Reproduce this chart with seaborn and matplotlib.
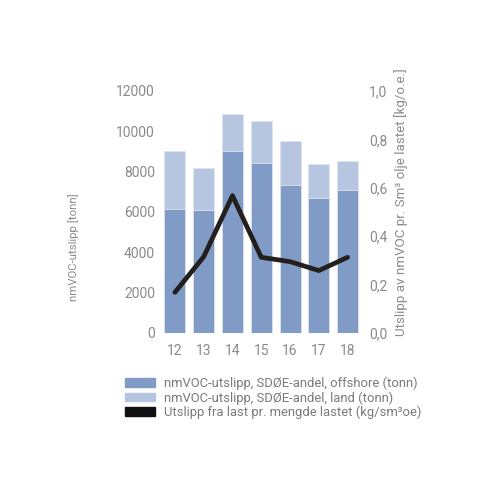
import matplotlib
matplotlib.use("Agg")
import matplotlib.pyplot as plt
import matplotlib.patches as mpatches
import seaborn as sns
import numpy as np
import pandas as pd

years = ["12", "13", "14", "15", "16", "17", "18"]
offshore = [6150, 6080, 9000, 8430, 7330, 6700, 7100]
total = [9020, 8160, 10870, 10500, 9520, 8390, 8520]
load_rate = [0.167, 0.314, 0.567, 0.312, 0.294, 0.257, 0.312]
left_ticks = [0, 2000, 4000, 6000, 8000, 10000, 12000]
right_ticks = [0.0, 0.2, 0.4, 0.6, 0.8, 1.0]
right_tick_labels = ["0,0", "0,2", "0,4", "0,6", "0,8", "1,0"]
legend_labels = [
    "nmVOC-utslipp, SDØE-andel, offshore (tonn)",
    "nmVOC-utslipp, SDØE-andel, land (tonn)",
    "Utslipp fra last pr. mengde lastet (kg/sm³oe)",
]

sns.set_theme(style="white")
plt.rcParams["font.family"] = ["Roboto", "DejaVu Sans"]

C_OFF = "#7f9bc6"
C_LAND = "#b7c6e0"
C_LINE = "#231f1c"
GRAY = "#8a8a8a"

df = pd.DataFrame({"year": years, "offshore": offshore, "total": total, "rate": load_rate})

fig = plt.figure(figsize=(5, 5), dpi=100)
ax = fig.add_axes([0.321, 0.3346, 0.403, 0.4834])

sns.barplot(data=df, x="year", y="total", color=C_LAND, saturation=1, width=0.73,
            ax=ax, edgecolor="#dfe5f0", linewidth=0.6)
sns.barplot(data=df, x="year", y="offshore", color=C_OFF, saturation=1, width=0.73,
            ax=ax, edgecolor="#dfe5f0", linewidth=0.6)

ax.set_ylim(0, 12000)
ax.set_xlim(-0.5, len(years) - 0.5)
ax.set_yticks(left_ticks)
ax.set_yticklabels([str(t) for t in left_ticks])
ax.set_xlabel("")
ax.set_ylabel("")
ax.tick_params(axis="both", colors=GRAY, labelsize=10, length=0, pad=4)
ax.tick_params(axis="x", pad=8)
for s in ax.spines.values():
    s.set_visible(False)

ax2 = ax.twinx()
sns.lineplot(x=np.arange(len(years)), y=load_rate, ax=ax2, color=C_LINE, linewidth=3.4)
ax2.set_ylim(0, 1.0)
ax2.set_yticks(right_ticks)
ax2.set_yticklabels(right_tick_labels)
ax2.tick_params(axis="y", colors=GRAY, labelsize=10, length=0, pad=5)
ax2.set_ylabel("")
for s in ax2.spines.values():
    s.set_visible(False)

fig.text(0.148, 0.505, "nmVOC-utslipp [tonn]", rotation=90, ha="center", va="center",
         color=GRAY, fontsize=8.2)
fig.text(0.802, 0.596, "Utslipp av nmVOC pr. Sm³ olje lastet [kg/o.e.]", rotation=90,
         ha="center", va="center", color=GRAY, fontsize=9.6)

handles = [mpatches.Patch(color=C_OFF), mpatches.Patch(color=C_LAND), mpatches.Patch(color="#111111")]
leg = fig.legend(handles, legend_labels, loc="upper left", bbox_to_anchor=(0.24, 0.257),
                 frameon=False, fontsize=9.4, labelcolor="#7a7a7a", handlelength=2.3,
                 handleheight=0.6, handletextpad=0.7, labelspacing=0.08, borderaxespad=0)

fig.savefig("out.png", dpi=100)
